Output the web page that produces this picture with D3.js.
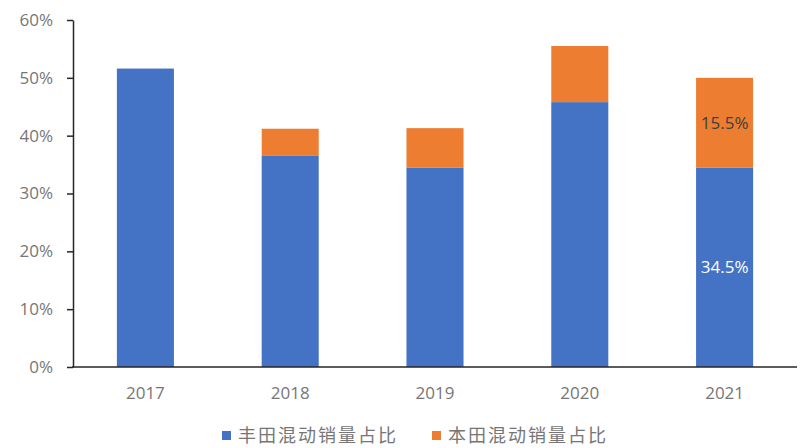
<!DOCTYPE html>
<html><head><meta charset="utf-8">
<script src="https://cdn.jsdelivr.net/npm/d3@7"></script>
<style>body{margin:0;background:#fff}svg{display:block}</style>
</head><body>
<svg id="c" width="800" height="448"></svg>
<script>
const categories = ["2017","2018","2019","2020","2021"];
const toyota = [51.6, 36.5, 34.5, 45.8, 34.5];
const honda  = [0, 4.7, 6.8, 9.7, 15.5];
const seriesNames = ["丰田混动销量占比","本田混动销量占比"];
const yTicks = [0,10,20,30,40,50,60];
const labelled = {"2021": true};

const svg = d3.select("#c");
const font = "'Open Sans', 'Noto Sans CJK SC', sans-serif";
const gray = "#767676";
const colors = ["#4472C4","#ED7D31"];

const x = d3.scaleBand().domain(categories).range([73,797]).paddingInner(0.606).paddingOuter(0.303);
const y = d3.scaleLinear().domain([0,60]).range([367,20]);

const data = categories.map((c,i)=>({c, t: toyota[i], h: honda[i]}));

// bars
const g = svg.append("g");
g.selectAll("rect.t").data(data).join("rect")
  .attr("x", d=>x(d.c)).attr("width", x.bandwidth())
  .attr("y", d=>y(d.t)).attr("height", d=>y(0)-y(d.t)).attr("fill", colors[0]);
g.selectAll("rect.h").data(data.filter(d=>d.h>0)).join("rect")
  .attr("x", d=>x(d.c)).attr("width", x.bandwidth())
  .attr("y", d=>y(d.t+d.h)).attr("height", d=>y(d.t)-y(d.t+d.h)).attr("fill", colors[1]);

// labels
const lab = data.filter(d=>labelled[d.c]);
g.selectAll("text.t").data(lab).join("text")
  .attr("x", d=>x(d.c)+x.bandwidth()/2).attr("y", d=>y(d.t/2)).attr("dy","0.35em")
  .attr("text-anchor","middle").attr("font-family",font).attr("font-size",17)
  .attr("fill","#fff").text(d=>d.t.toFixed(1)+"%");
g.selectAll("text.h").data(lab).join("text")
  .attr("x", d=>x(d.c)+x.bandwidth()/2).attr("y", d=>y(d.t+d.h/2)).attr("dy","0.35em")
  .attr("text-anchor","middle").attr("font-family",font).attr("font-size",17)
  .attr("fill","#404040").text(d=>d.h.toFixed(1)+"%");

// y axis
const ya = svg.append("g").attr("transform","translate(73,0)")
  .call(d3.axisLeft(y).tickValues(yTicks).tickFormat(d=>d+"%").tickSize(6).tickSizeOuter(0).tickPadding(14));
ya.select(".domain").attr("stroke","#262626").attr("stroke-width",1.5);
ya.selectAll(".tick line").attr("stroke","#262626").attr("stroke-width",1.5);
ya.selectAll("text").attr("font-family",font).attr("font-size",17).attr("fill",gray);

// x axis
const xa = svg.append("g").attr("transform","translate(0,367)")
  .call(d3.axisBottom(x).tickSize(0).tickPadding(20));
xa.select(".domain").attr("stroke","#262626").attr("stroke-width",1.5).attr("d","M72,0H797");
xa.selectAll("text").attr("font-family",font).attr("font-size",17).attr("fill",gray);

// legend
const legX = [222, 432];
const leg = svg.append("g");
seriesNames.forEach((n,i)=>{
  leg.append("rect").attr("x",legX[i]).attr("y",431).attr("width",9).attr("height",9).attr("fill",colors[i]);
  leg.append("text").attr("x",legX[i]+16).attr("y",436).attr("dy","0.35em")
    .attr("font-family","'Noto Sans CJK SC', sans-serif").attr("font-size",18)
    .attr("letter-spacing",2).attr("fill",gray).text(n);
});
</script>
</body></html>
